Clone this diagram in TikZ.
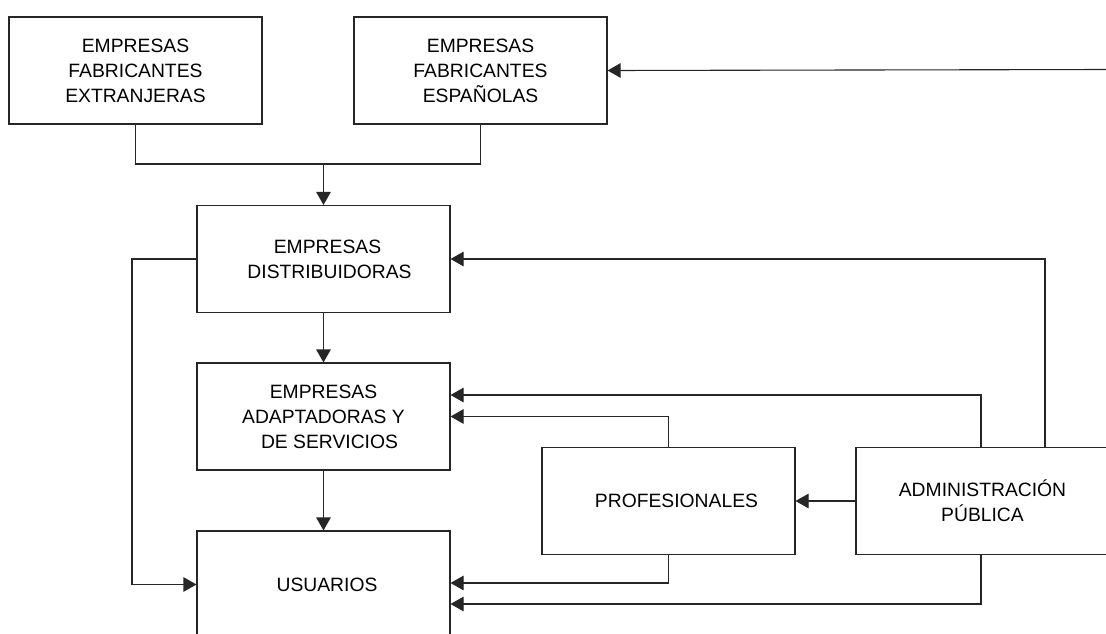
\documentclass[tikz,border=0pt]{standalone}
\usepackage{fontspec}
\setmainfont{Liberation Sans}
\usetikzlibrary{arrows.meta,positioning}
\begin{document}
\begin{tikzpicture}[x=1pt,y=-1pt,
  box/.style={draw=black!85,line width=1.1pt,minimum width=253pt,minimum height=107pt,inner sep=0pt,align=center,
    font=\fontsize{19.3}{25}\selectfont},
  conn/.style={draw=black!85,line width=1.1pt},
  arr/.style={conn,-{Triangle[length=13pt,width=14.5pt]}}]
\clip (0,0) rectangle (1106,633);
\fill[white] (0,0) rectangle (1106,633);
\node[box] (ext) at (135.5,70.5) {EMPRESAS\\FABRICANTES\\EXTRANJERAS};
\node[box] (esp) at (480.5,70.5) {EMPRESAS\\FABRICANTES\\ESPAÑOLAS};
\node[box] (dist) at (323.5,259) {\hspace*{8pt}EMPRESAS\\\hspace*{12pt}DISTRIBUIDORAS};
\node[box] (adapt) at (323.5,416.5) {EMPRESAS\\ADAPTADORAS Y\\\hspace*{12pt}DE SERVICIOS};
\node[box] (usu) at (323.5,584.5) {\hspace*{7pt}USUARIOS};
\node[box] (prof) at (668.5,501) {\hspace*{16pt}PROFESIONALES};
\node[box] (admin) at (982.5,501) {ADMINISTRACIÓN\\PÚBLICA};
\coordinate (j) at (323.5,164);
\coordinate (l) at (132,259);
\coordinate (r) at (1106,69.5);
\draw[conn] (ext.south) |- (j) -| (esp.south);
\draw[arr] (j) -- (dist.north);
\draw[arr] (dist) -- (adapt);
\draw[arr] (adapt) -- (usu);
\draw[arr] (dist.west) -- (l) |- (usu.west);
\draw[arr] (r) -- (esp.east);
\draw[arr] ([xshift=62.5pt]admin.north) |- (dist.east);
\draw[arr] ([xshift=-1.5pt]admin.north) |- ([yshift=21.5pt]adapt.east);
\draw[arr] (prof.north) |- (adapt.east);
\draw[arr] (admin.west) -- (prof.east);
\draw[arr] (prof.south) |- ([yshift=1.5pt]usu.east);
\draw[arr] ([xshift=-1.5pt]admin.south) |- ([yshift=-19.5pt]usu.east);
\end{tikzpicture}
\end{document}
